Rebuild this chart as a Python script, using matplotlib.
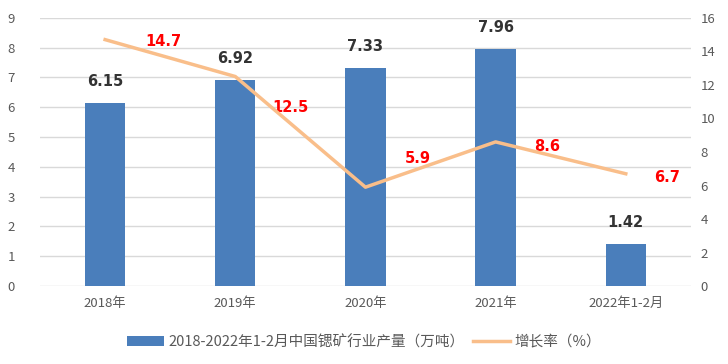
import numpy as np
import matplotlib.pyplot as plt

plt.rcParams['font.family'] = ['Noto Sans CJK SC', 'DejaVu Sans']

cats = ['2018年', '2019年', '2020年', '2021年', '2022年1-2月']
output = [6.15, 6.92, 7.33, 7.96, 1.42]
growth = [14.7, 12.5, 5.9, 8.6, 6.7]

bar_col = '#4A7EBB'
line_col = '#F9BE8A'
txt_col = '#595959'

fig = plt.figure(figsize=(7.28, 3.64), dpi=100)
ax = fig.add_axes([0.055, 0.214, 0.894, 0.737])
ax2 = ax.twinx()

x = np.arange(len(cats))
bars = ax.bar(x, output, width=0.31, color=bar_col, zorder=3,
              label='2018-2022年1-2月中国锶矿行业产量（万吨）')
for xi, v in zip(x, output):
    ax.annotate(f'{v:.2f}', (xi, v), xytext=(0, 10), textcoords='offset points',
                ha='center', va='bottom', fontsize=10.5, fontweight='bold',
                color='#333333', family='DejaVu Sans')

ln, = ax2.plot(x, growth, color=line_col, lw=2.5, zorder=4, label='增长率（%）')
offs = [(42, -1), (40, -22), (38, 21), (37, -3), (30, -3)]
for xi, v, o in zip(x, growth, offs):
    ax2.annotate(f'{v}', (xi, v), xytext=o, textcoords='offset points',
                 ha='center', va='center', fontsize=10.5, fontweight='bold',
                 color='red', family='DejaVu Sans')

ax.set_xlim(-0.5, len(cats) - 0.5)
ax.set_ylim(0, 9)
ax.set_yticks(range(0, 10))
ax2.set_ylim(0, 16)
ax2.set_yticks(range(0, 17, 2))
ax.set_xticks(x)
ax.set_xticklabels(cats)
ax.grid(axis='y', color='#D9D9D9', lw=1, zorder=0)
ax.set_axisbelow(True)
for a in (ax, ax2):
    for s in a.spines.values():
        s.set_visible(False)
    a.tick_params(length=0, colors=txt_col, labelsize=9.5)
ax.tick_params(axis='x', pad=8, labelsize=9.5)
ax.tick_params(axis='y', pad=18)
ax2.tick_params(axis='y', pad=7)

fig.legend([bars, ln], [bars.get_label(), ln.get_label()], loc='center',
           bbox_to_anchor=(0.5, 0.06), ncol=2, frameon=False, fontsize=10.5,
           labelcolor=txt_col, handlelength=2.5, columnspacing=0.6, handletextpad=0.3)

fig.savefig('out.png', dpi=100)
